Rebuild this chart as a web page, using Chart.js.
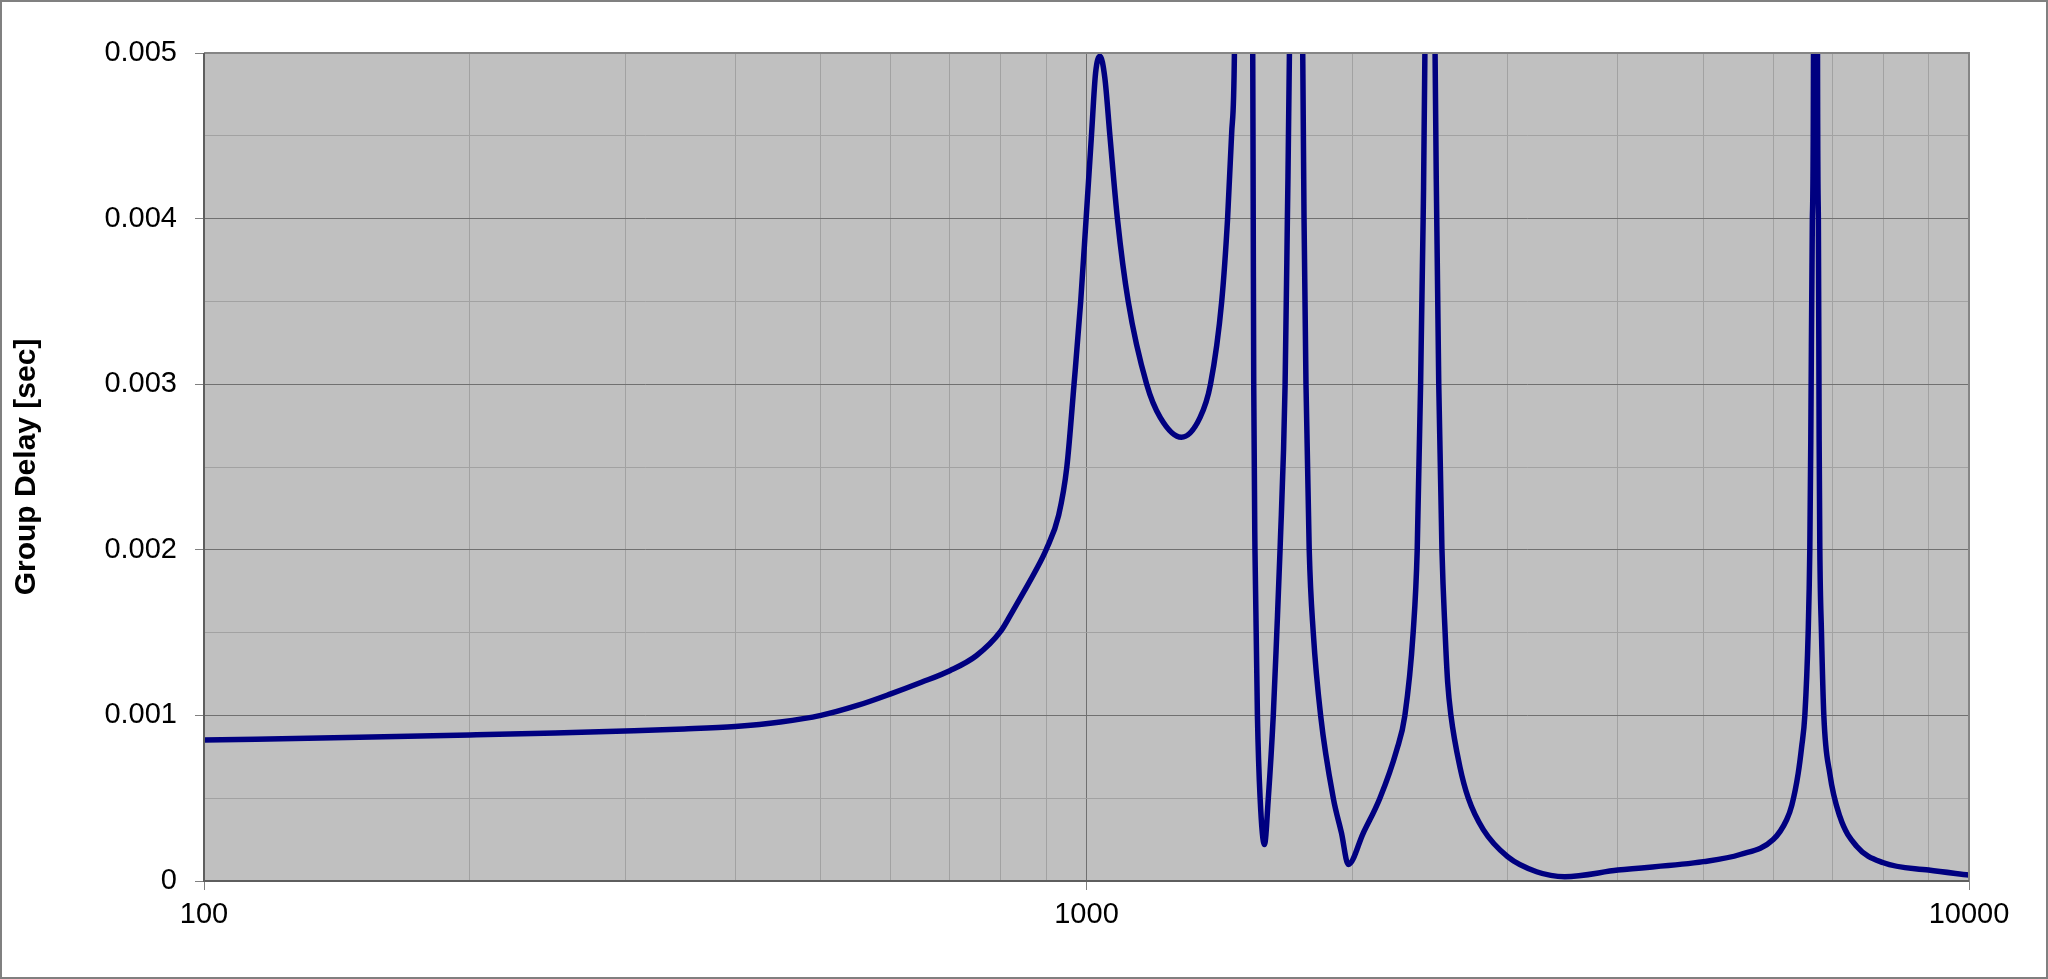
<!DOCTYPE html>
<html>
<head>
<meta charset="utf-8">
<title>Group Delay</title>
<script src="https://cdn.jsdelivr.net/npm/chart.js@4.4.1/dist/chart.umd.min.js"></script>
<style>
  html, body { margin: 0; padding: 0; background: #ffffff; }
  #wrap { position: relative; width: 2048px; height: 979px; }
</style>
</head>
<body>
<div id="wrap"><canvas id="chartDelay"></canvas></div>
<script>
// ================= DATA =================
// frequency [Hz]
const freqs = [
  100, 150, 200, 250, 300, 350, 400, 450, 500, 550, 600, 650, 700, 750, 800, 825, 850, 875, 900,
  930, 950, 968, 985, 999, 1013, 1024, 1036, 1049, 1063, 1084, 1115, 1170, 1212, 1281,
  1345, 1382, 1423, 1445, 1460, 1471, 1505, 1543, 1545, 1547, 1552, 1562, 1573, 1591,
  1607, 1628, 1643, 1657, 1679, 1689, 1698, 1728, 1758, 1764, 1773, 1788, 1807, 1842,
  1904, 1945, 1980, 2059, 2150, 2246, 2295, 2345, 2370, 2391, 2407, 2418, 2450, 2483,
  2494, 2507, 2528, 2549, 2566, 2588, 2649, 2708, 2816, 3000, 3236, 3483, 4000, 5000,
  5503, 6000, 6214, 6300, 6404, 6462, 6516, 6573, 6601, 6618, 6645, 6665, 6700, 6735, 6750,
  6764, 6776, 6805, 6847, 6954, 7139, 7458, 8000, 9000, 10000
];
// group delay [sec]
const delays = [
  0.000851, 0.000868, 0.000882, 0.000894, 0.000906, 0.000918, 0.000933, 0.00096, 0.001,
  0.00106, 0.00113, 0.0012, 0.00127, 0.00136, 0.00151, 0.00163, 0.00175, 0.00187, 0.002,
  0.00221, 0.0025, 0.003, 0.0035, 0.004, 0.0045, 0.00488, 0.00498, 0.00485, 0.0045, 0.004,
  0.0035, 0.003, 0.0028, 0.00268,
  0.0028, 0.003, 0.0035, 0.004, 0.0045, 0.005, 0.012, 0.005, 0.004, 0.003, 0.002, 0.001,
  0.0005, 0.00022,
  0.0005, 0.001, 0.0015, 0.002, 0.003, 0.004, 0.005, 0.012, 0.005, 0.004, 0.003, 0.002,
  0.0015, 0.001,
  0.0005, 0.00029, 0.0001, 0.00029, 0.0005, 0.00079, 0.001, 0.0015, 0.002, 0.003, 0.004,
  0.005, 0.012, 0.005,
  0.004, 0.003, 0.002, 0.0015, 0.0012, 0.001, 0.00069, 0.0005, 0.00031, 0.000147,
  0.000056, 0.000026, 0.000066, 0.000117,
  0.00016, 0.00025, 0.00037, 0.00046, 0.00065, 0.00081, 0.001, 0.0015, 0.002, 0.00266, 0.004,
  0.005, 0.03, 0.005, 0.004,
  0.00266, 0.002, 0.0015, 0.001, 0.00065, 0.00039, 0.00021, 0.00011, 0.000066, 0.000036
];

// tick positions / labels
const xTickValues = [100, 200, 300, 400, 500, 600, 700, 800, 900,
  1000, 2000, 3000, 4000, 5000, 6000, 7000, 8000, 9000, 10000];
const xLabelValues = [100, 1000, 10000];
const yTickValues = [0, 0.0005, 0.001, 0.0015, 0.002, 0.0025, 0.003, 0.0035, 0.004, 0.0045, 0.005];
const yLabelValues = [0, 0.001, 0.002, 0.003, 0.004, 0.005];

const FONT = "'Liberation Sans', Arial, sans-serif";

// ================= PLUGIN: backgrounds & frames =================
const plotFrame = {
  id: 'plotFrame',
  beforeDraw(chart) {
    const { ctx, chartArea: a, width, height } = chart;
    ctx.save();
    ctx.fillStyle = '#ffffff';
    ctx.fillRect(0, 0, width, height);
    ctx.fillStyle = '#c0c0c0';
    ctx.fillRect(a.left, a.top, a.right - a.left, a.bottom - a.top);
    ctx.restore();
  },
  afterDatasetsDraw(chart) {
    const { ctx, chartArea: a } = chart;
    ctx.save();
    // top + right edge, lighter
    ctx.strokeStyle = '#858585';
    ctx.lineWidth = 2;
    ctx.beginPath();
    ctx.moveTo(a.left, a.top);
    ctx.lineTo(a.right, a.top);
    ctx.lineTo(a.right, a.bottom);
    ctx.stroke();
    // axes, darker
    ctx.strokeStyle = '#5e5e5e';
    ctx.beginPath();
    ctx.moveTo(a.left, a.top);
    ctx.lineTo(a.left, a.bottom);
    ctx.lineTo(a.right, a.bottom);
    ctx.stroke();
    ctx.restore();
  },
  afterDraw(chart) {
    const { ctx, width, height } = chart;
    ctx.save();
    ctx.strokeStyle = '#808080';
    ctx.lineWidth = 2;
    ctx.strokeRect(1, 1, width - 2, height - 2);
    ctx.restore();
  }
};

// ================= CHART =================
const points = freqs.map((f, i) => ({ x: f, y: delays[i] }));

const ctx = document.getElementById('chartDelay').getContext('2d');
new Chart(ctx, {
  type: 'line',
  data: {
    datasets: [{
      label: 'Group Delay',
      data: points,
      borderColor: '#000080',
      borderWidth: 5.5,
      pointRadius: 0,
      cubicInterpolationMode: 'monotone',
      fill: false,
      clip: 0
    }]
  },
  options: {
    responsive: true,
    maintainAspectRatio: false,
    animation: false,
    layout: { padding: { top: 53, right: 79, bottom: 0, left: 0 } },
    plugins: {
      legend: { display: false },
      tooltip: { enabled: false }
    },
    scales: {
      x: {
        type: 'logarithmic',
        min: 100,
        max: 10000,
        afterBuildTicks: s => { s.ticks = xTickValues.map(v => ({ value: v })); },
        afterFit: s => { s.height = 98; },
        border: { display: false },
        grid: {
          color: c => (xLabelValues.includes(c.tick.value) ? '#707070' : '#a2a2a2'),
          lineWidth: 1,
          tickColor: c => (xLabelValues.includes(c.tick.value) ? '#808080' : 'rgba(0,0,0,0)'),
          tickLength: 9
        },
        ticks: {
          autoSkip: false,
          maxRotation: 0,
          padding: 8,
          color: '#000000',
          font: { family: FONT, size: 29 },
          callback: v => (xLabelValues.includes(v) ? String(v) : '')
        }
      },
      y: {
        min: 0,
        max: 0.005,
        afterBuildTicks: s => { s.ticks = yTickValues.map(v => ({ value: v })); },
        afterFit: s => { s.width = 204; },
        border: { display: false },
        grid: {
          color: c => (yLabelValues.includes(c.tick.value) ? '#707070' : '#a2a2a2'),
          lineWidth: 1,
          tickColor: c => (yLabelValues.includes(c.tick.value) ? '#808080' : 'rgba(0,0,0,0)'),
          tickLength: 9
        },
        ticks: {
          autoSkip: false,
          padding: 18,
          color: '#000000',
          font: { family: FONT, size: 29 },
          callback: v => (yLabelValues.includes(v) ? String(v) : '')
        },
        title: {
          display: true,
          text: 'Group Delay [sec]',
          color: '#000000',
          font: { family: FONT, size: 30, weight: 'bold' },
          padding: { top: 9, bottom: 0 }
        }
      }
    }
  },
  plugins: [plotFrame]
});
</script>
</body>
</html>
